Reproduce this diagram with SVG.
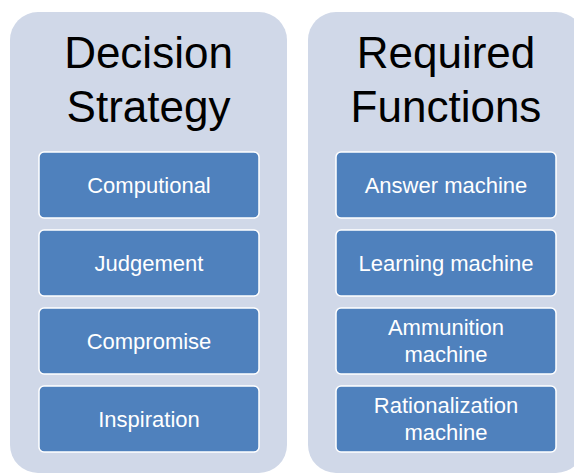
<svg xmlns="http://www.w3.org/2000/svg" width="574" height="473" viewBox="0 0 574 473">
<style>
.panel{fill:#d0d8e8;}
.box{fill:#4f81bd;stroke:#ffffff;stroke-width:1.5;}
.title{font-family:"Liberation Sans",Arial,sans-serif;font-size:44px;fill:#000000;text-anchor:middle;}
.lbl{font-family:"Liberation Sans",Arial,sans-serif;font-size:22px;fill:#ffffff;text-anchor:middle;}
</style>
<rect width="574" height="473" fill="#ffffff"/>
<g id="panel-decision">
<rect class="panel" x="10" y="12" width="277" height="461" rx="28"/>
<text class="title" x="148.5" y="68">Decision</text>
<text class="title" x="148.5" y="122">Strategy</text>
</g>
<g id="panel-functions">
<rect class="panel" x="308" y="12" width="276" height="461" rx="28"/>
<text class="title" x="446" y="68">Required</text>
<text class="title" x="446" y="122">Functions</text>
</g>
<g id="connectors"></g>
<g id="node-computional">
<rect class="box" x="39" y="152" width="220" height="66" rx="5"/>
<text class="lbl" x="149" y="193">Computional</text>
</g>
<g id="node-judgement">
<rect class="box" x="39" y="230" width="220" height="66" rx="5"/>
<text class="lbl" x="149" y="271">Judgement</text>
</g>
<g id="node-compromise">
<rect class="box" x="39" y="308" width="220" height="66" rx="5"/>
<text class="lbl" x="149" y="349">Compromise</text>
</g>
<g id="node-inspiration">
<rect class="box" x="39" y="386" width="220" height="66" rx="5"/>
<text class="lbl" x="149" y="427">Inspiration</text>
</g>
<g id="node-answer">
<rect class="box" x="336" y="152" width="220" height="66" rx="5"/>
<text class="lbl" x="446" y="193">Answer machine</text>
</g>
<g id="node-learning">
<rect class="box" x="336" y="230" width="220" height="66" rx="5"/>
<text class="lbl" x="446" y="271">Learning machine</text>
</g>
<g id="node-ammunition">
<rect class="box" x="336" y="308" width="220" height="66" rx="5"/>
<text class="lbl" x="446" y="335">Ammunition</text>
<text class="lbl" x="446" y="362">machine</text>
</g>
<g id="node-rationalization">
<rect class="box" x="336" y="386" width="220" height="66" rx="5"/>
<text class="lbl" x="446" y="413">Rationalization</text>
<text class="lbl" x="446" y="440">machine</text>
</g>
</svg>
